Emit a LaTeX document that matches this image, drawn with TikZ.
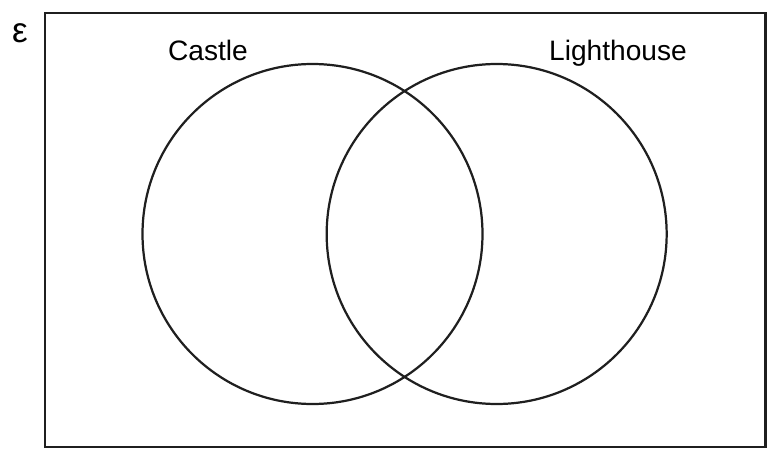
\documentclass[tikz,border=0pt]{standalone}
\usepackage{fontspec}
\setmainfont{Liberation Sans}

\tikzset{
  venn/.style={draw=black!88, line width=1.9pt, circle, minimum size=10.2cm, inner sep=0pt},
  setlabel/.style={anchor=base, font=\fontsize{24}{28}\selectfont},
}

\begin{document}
\begin{tikzpicture}

  \def\r{5.1}
  \useasboundingbox (0,0) rectangle (23.13,13.5);

  % Universal set
  \coordinate (ll) at (1.35,0.09);
  \coordinate (ur) at (22.96,13.11);
  \draw[black!88, line width=2.1pt] (ll) rectangle (ur);
  \node[font=\fontsize{30}{34}\selectfont] (univ) at (0.6,12.5) {ε};

  % The two sets
  \node[venn] (castle) at (9.375,6.48) {};
  \node[venn] (lighthouse) at (14.9,6.48) {};

  % Set names
  \node[setlabel] (castlelbl) at (6.24,11.67) {Castle};
  \node[setlabel] (lighthouselbl) at (18.54,11.67) {Lighthouse};

\end{tikzpicture}
\end{document}
